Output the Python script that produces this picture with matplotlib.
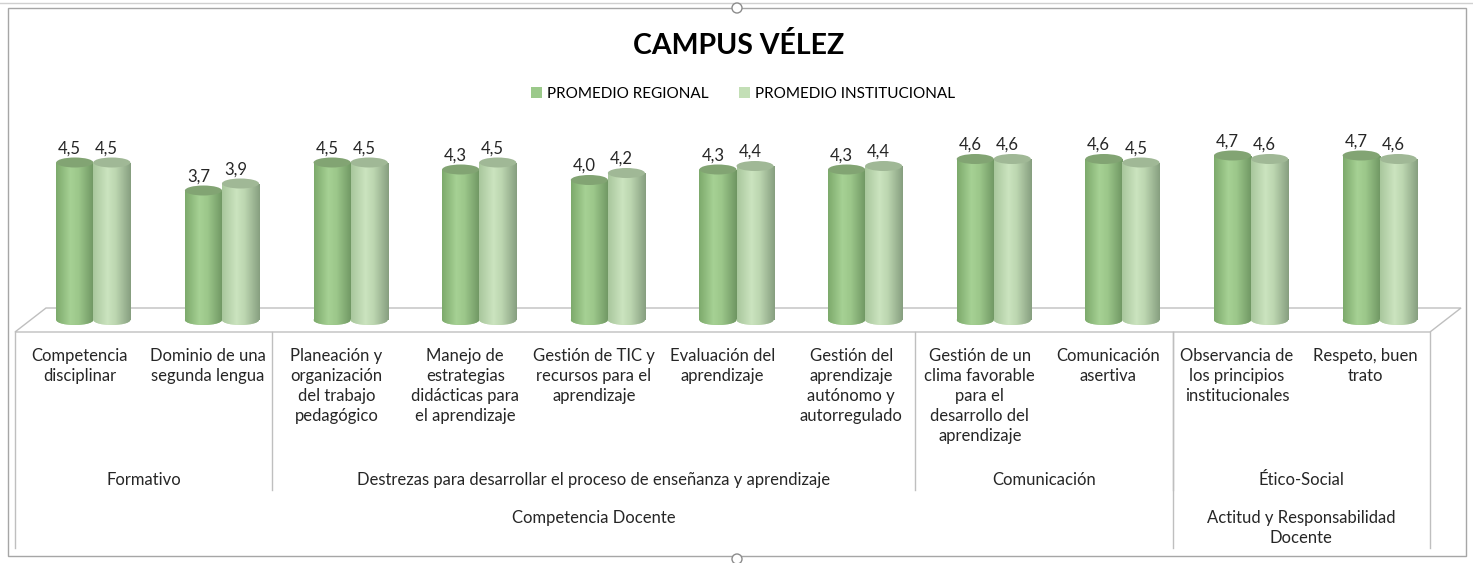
import numpy as np
import matplotlib
matplotlib.use("Agg")
import matplotlib.pyplot as plt
from matplotlib.patches import Rectangle, Ellipse, Polygon, Patch, Circle
from matplotlib.colors import to_rgb

# ---------------- data ----------------
title = "CAMPUS VÉLEZ"
series_names = ["PROMEDIO REGIONAL", "PROMEDIO INSTITUCIONAL"]
categories = [
    "Competencia\ndisciplinar",
    "Dominio de una\nsegunda lengua",
    "Planeación y\norganización\ndel trabajo\npedagógico",
    "Manejo de\nestrategias\ndidácticas para\nel aprendizaje",
    "Gestión de TIC y\nrecursos para el\naprendizaje",
    "Evaluación del\naprendizaje",
    "Gestión del\naprendizaje\nautónomo y\nautorregulado",
    "Gestión de un\nclima favorable\npara el\ndesarrollo del\naprendizaje",
    "Comunicación\nasertiva",
    "Observancia de\nlos principios\ninstitucionales",
    "Respeto, buen\ntrato",
]
regional = [4.5, 3.7, 4.5, 4.3, 4.0, 4.3, 4.3, 4.6, 4.6, 4.7, 4.7]
institucional = [4.5, 3.9, 4.5, 4.5, 4.2, 4.4, 4.4, 4.6, 4.5, 4.6, 4.6]
# group levels: (label, first index, last index)
level2 = [("Formativo", 0, 1),
          ("Destrezas para desarrollar el proceso de enseñanza y aprendizaje", 2, 6),
          ("Comunicación", 7, 8),
          ("Ético-Social", 9, 10)]
level3 = [("Competencia Docente", 0, 8),
          ("Actitud y Responsabilidad\nDocente", 9, 10)]

# ---------------- styling ----------------
FONT = "Lato"
W, H = 1473, 563
fig = plt.figure(figsize=(W / 100, H / 100), dpi=100)
fig.patch.set_facecolor("white")

# background axes in pixel coords
bg = fig.add_axes([0, 0, 1, 1], zorder=0)
bg.set_xlim(0, W)
bg.set_ylim(H, 0)
bg.axis("off")

grey = "#a6a6a6"
linec = "#bfbfbf"
txtc = "#262626"

# outer frame + selection artefacts
bg.add_patch(Rectangle((8, 8), 1458, 548, fill=False, ec=grey, lw=1.0))
bg.plot([0, W], [3, 3], color="#d0d0d0", lw=1.0)
bg.add_patch(Circle((737, 8), 5, fc="white", ec="#8c8c8c", lw=1.0, zorder=5))
bg.add_patch(Circle((737, 559), 5, fc="white", ec="#8c8c8c", lw=1.0, zorder=5))

# floor (3D base)
x0, x1 = 15, 1430
dx, dy = 31, 24
floor_y = 332
bg.add_patch(Polygon([[x0, floor_y], [x1, floor_y], [x1 + dx, floor_y - dy], [x0 + dx, floor_y - dy]],
                     closed=True, fc="white", ec=linec, lw=1.0))

n = len(categories)
cw = (x1 - x0) / n

# vertical separators of the category table
def vline(x, y_end):
    bg.plot([x, x], [floor_y, y_end], color=linec, lw=1.0)

vline(x0, 548)
vline(x1, 548)
for _, a, b in level2[:-1]:
    vline(x0 + cw * (b + 1), 490)
for _, a, b in level3[:-1]:
    vline(x0 + cw * (b + 1), 548)

lab_fs = 12
lsp = 1.3
for i, lab in enumerate(categories):
    bg.text(x0 + cw * (i + 0.5), 348, lab, ha="center", va="top", fontsize=lab_fs,
            family=FONT, linespacing=lsp, color=txtc)
for lab, a, b in level2:
    bg.text(x0 + cw * (a + b + 1) / 2, 480, lab, ha="center", va="center", fontsize=lab_fs,
            family=FONT, color=txtc)
for lab, a, b in level3:
    bg.text(x0 + cw * (a + b + 1) / 2, 510, lab, ha="center", va="top", fontsize=lab_fs,
            family=FONT, linespacing=lsp, color=txtc)

# title
bg.text(739, 45, title, ha="center", va="center", fontsize=20.5, fontweight="bold",
        family=FONT, color="black")

# ---------------- bars (cylinders) ----------------
px_per_unit = 35.0
y_zero = 320.0
ax_top, ax_bot = 100.0, 340.0
ax_left = x0 + 14
ax = fig.add_axes([ax_left / W, 1 - ax_bot / H, (x1 - x0) / W, (ax_bot - ax_top) / H], zorder=1)
ax.set_xlim(-0.5, n - 0.5)
ax.set_ylim(-(ax_bot - y_zero) / px_per_unit, (y_zero - ax_top) / px_per_unit)
ax.patch.set_alpha(0)
ax.axis("off")

bw = 0.288
eh = 10.0 / px_per_unit  # ellipse height in data units

styles = [
    dict(stops=["#7daa6c", "#a6d194", "#9cc78a", "#6f9662"], top="#82a473", legend="#9bc98a"),
    dict(stops=["#a9c79d", "#cbe4bf", "#bcd6b0", "#879f80"], top="#a0b896", legend="#c3dfb6"),
]

def gradient(stops, npx=64):
    cols = np.array([to_rgb(c) for c in stops])
    pos = np.array([0.0, 0.38, 0.6, 1.0])
    t = np.linspace(0, 1, npx)
    arr = np.stack([np.interp(t, pos, cols[:, k]) for k in range(3)], axis=-1)
    return arr[np.newaxis, :, :]

x = np.arange(n)
for s, (vals, st) in enumerate(zip([regional, institucional], styles)):
    xs = x + (s - 0.5) * bw
    bars = ax.bar(xs, vals, width=bw, color=st["legend"], lw=0, zorder=2 + s)
    grad = gradient(st["stops"])
    for rect, v, xc in zip(bars, vals, xs):
        be = Ellipse((xc, 0), bw, eh, fc=st["legend"], lw=0, zorder=2 + s)
        ax.add_patch(be)
        im = ax.imshow(grad, extent=[xc - bw / 2, xc + bw / 2, -eh, v], aspect="auto",
                       zorder=2 + s, interpolation="bilinear")
        im.set_clip_path(rect)
        im2 = ax.imshow(grad, extent=[xc - bw / 2, xc + bw / 2, -eh, v], aspect="auto",
                        zorder=2 + s, interpolation="bilinear")
        im2.set_clip_path(be)
        ax.add_patch(Ellipse((xc, v), bw, eh, fc=st["top"], ec="none", zorder=2.5 + s))
        ax.text(xc - 0.04, v + 0.40, f"{v:.1f}".replace(".", ","), ha="center", va="center",
                fontsize=12, family=FONT, color=txtc, zorder=5)

ax.set_xlim(-0.5, n - 0.5)
ax.set_ylim(-(ax_bot - y_zero) / px_per_unit, (y_zero - ax_top) / px_per_unit)

# legend
handles = [Patch(fc=st["legend"], ec="none") for st in styles]
fig.legend(handles, series_names, loc="center", bbox_to_anchor=(743 / W, 1 - 93.5 / H),
           ncol=2, frameon=False, handlelength=0.7, handleheight=0.7, handletextpad=0.35,
           columnspacing=2.0, prop=dict(family=FONT, size=11))

fig.savefig("out.png", dpi=100, facecolor="white")
